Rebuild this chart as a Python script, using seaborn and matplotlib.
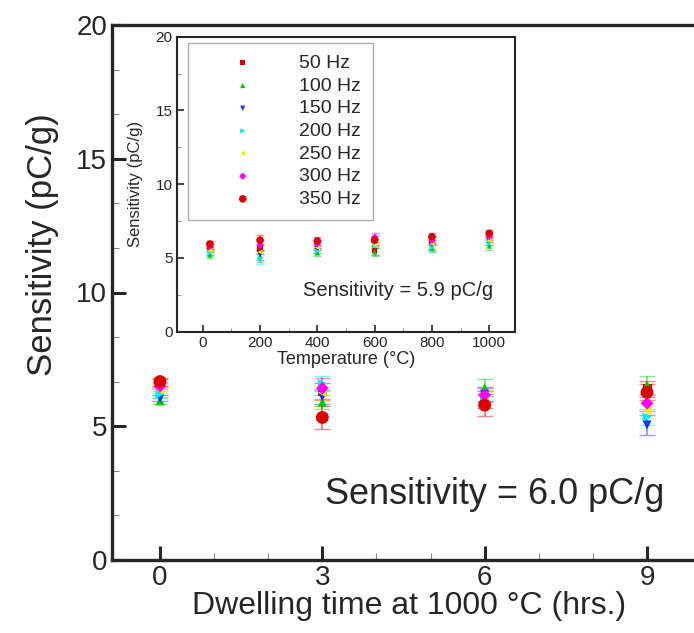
import numpy as np
import pandas as pd
import matplotlib
matplotlib.use("Agg")
import matplotlib.pyplot as plt
from matplotlib.ticker import MultipleLocator
import seaborn as sns

# ---- data ----
freqs = ["50 Hz", "100 Hz", "150 Hz", "200 Hz", "250 Hz", "300 Hz", "350 Hz"]
colors = ["#dd0000", "#00cc00", "#1030ff", "#00f0f0", "#f0f000", "#ff00ff", "#dd0000"]
markers = ["s", "^", "v", ">", "<", "D", "o"]

# main plot: dwelling time at 1000 C
dwell_hrs = [0, 3, 6, 9]
main_sens = {
    "50 Hz":  [6.60, 6.30, 6.00, 6.40],
    "100 Hz": [5.95, 5.90, 6.45, 6.55],
    "150 Hz": [6.05, 6.10, 6.20, 5.05],
    "200 Hz": [6.20, 6.60, 6.05, 5.35],
    "250 Hz": [6.35, 6.25, 6.10, 5.60],
    "300 Hz": [6.50, 6.42, 6.17, 5.86],
    "350 Hz": [6.67, 5.33, 5.79, 6.27],
}
main_err = {
    "50 Hz":  [0.15, 0.30, 0.30, 0.30],
    "100 Hz": [0.12, 0.25, 0.32, 0.33],
    "150 Hz": [0.12, 0.25, 0.25, 0.38],
    "200 Hz": [0.12, 0.28, 0.25, 0.30],
    "250 Hz": [0.12, 0.25, 0.25, 0.30],
    "300 Hz": [0.12, 0.40, 0.25, 0.30],
    "350 Hz": [0.15, 0.42, 0.40, 0.30],
}

# inset: temperature
temps = [25, 200, 400, 600, 800, 1000]
inset_sens = {
    "50 Hz":  [5.70, 5.60, 5.80, 5.50, 6.15, 6.35],
    "100 Hz": [5.20, 5.10, 5.35, 5.40, 5.66, 5.80],
    "150 Hz": [5.40, 5.20, 5.55, 5.95, 5.80, 6.10],
    "200 Hz": [5.35, 4.95, 5.45, 5.80, 5.70, 6.05],
    "250 Hz": [5.50, 5.40, 5.70, 5.90, 5.95, 6.20],
    "300 Hz": [5.80, 5.87, 5.95, 6.40, 6.20, 6.45],
    "350 Hz": [5.94, 6.20, 6.14, 6.20, 6.43, 6.66],
}
inset_err = [0.2, 0.35, 0.25, 0.3, 0.25, 0.25]

# ---- long tables ----
main_df = pd.DataFrame([
    {"freq": f, "time": t, "sens": s, "err": e}
    for f in freqs for t, s, e in zip(dwell_hrs, main_sens[f], main_err[f])
])
inset_df = pd.DataFrame([
    {"freq": f, "temp": t, "sens": s, "err": e}
    for f in freqs for t, s, e in zip(temps, inset_sens[f], inset_err)
])

palette = dict(zip(freqs, colors))
marker_map = dict(zip(freqs, markers))

sns.set_style("ticks")
plt.rcParams["font.family"] = ["Liberation Sans", "DejaVu Sans"]
plt.rcParams["xtick.direction"] = "in"
plt.rcParams["ytick.direction"] = "in"

fig = plt.figure(figsize=(6.94, 6.33), dpi=100)

# ========== main axes ==========
ax = fig.add_axes([112 / 694, 73 / 633, 594 / 694, 535 / 633])
for f in freqs:
    d = main_df[main_df["freq"] == f]
    ax.errorbar(d["time"], d["sens"], yerr=d["err"], fmt="none",
                ecolor=palette[f], alpha=0.45, capsize=6, elinewidth=1.5, zorder=2)
for f in freqs:
    d = main_df[main_df["freq"] == f]
    sns.scatterplot(data=d, x="time", y="sens", color=palette[f], marker=marker_map[f],
                    s=85 if f == "350 Hz" else 42, edgecolor="none", ax=ax, zorder=3,
                    legend=False)

ax.set_xlim(-0.887, 10.09)
ax.set_ylim(0, 20)
ax.set_xticks(dwell_hrs)
ax.xaxis.set_minor_locator(MultipleLocator(1))
ax.yaxis.set_major_locator(MultipleLocator(5))
ax.yaxis.set_minor_locator(MultipleLocator(5 / 3))
ax.tick_params(axis="both", which="major", labelsize=20, length=10, width=2.2)
ax.tick_params(axis="both", which="minor", length=5, width=0.8, color="#888888")
for side in ["left", "bottom", "top"]:
    ax.spines[side].set_linewidth(2.4)
ax.spines["right"].set_visible(False)
ax.set_xlabel("Dwelling time at 1000 °C (hrs.)", fontsize=23, labelpad=0)
ax.set_ylabel("Sensitivity (pC/g)", fontsize=25)
ax.yaxis.set_label_coords(-0.09, 0.59)
ax.text(3.05, 2.43, "Sensitivity = 6.0 pC/g", fontsize=26, va="center", ha="left")

# ========== inset axes ==========
axi = fig.add_axes([176.7 / 694, 301.4 / 633, 338.3 / 694, 294.9 / 633])
for f in freqs:
    d = inset_df[inset_df["freq"] == f]
    axi.errorbar(d["temp"], d["sens"], yerr=d["err"], fmt="none",
                 ecolor=palette[f], alpha=0.45, capsize=3, elinewidth=1, zorder=2)
for f in freqs:
    d = inset_df[inset_df["freq"] == f]
    sns.scatterplot(data=d, x="temp", y="sens", color=palette[f], marker=marker_map[f],
                    s=30 if f == "350 Hz" else 14, edgecolor="none", ax=axi, zorder=3,
                    label=f)

axi.set_xlim(-91, 1090)
axi.set_ylim(0, 20)
axi.xaxis.set_major_locator(MultipleLocator(200))
axi.xaxis.set_minor_locator(MultipleLocator(100))
axi.yaxis.set_major_locator(MultipleLocator(5))
axi.yaxis.set_minor_locator(MultipleLocator(2.5))
axi.tick_params(axis="both", which="major", labelsize=11, length=5, width=1.2, pad=3)
axi.tick_params(axis="both", which="minor", length=3, width=0.6, color="#888888")
for side in axi.spines.values():
    side.set_linewidth(1.5)
axi.set_xlabel("Temperature (°C)", fontsize=13, labelpad=1)
axi.set_ylabel("Sensitivity (pC/g)", fontsize=12)
axi.yaxis.set_label_coords(-0.10, 0.5)
axi.text(351, 2.77, "Sensitivity = 5.9 pC/g", fontsize=14.5, va="center", ha="left")

handles, labels = axi.get_legend_handles_labels()
leg = axi.legend(handles, labels, loc="upper left", bbox_to_anchor=(0.0343, 0.9797),
                 fontsize=14, frameon=True, fancybox=False, edgecolor="#999999",
                 handletextpad=0.7, borderpad=0.6, labelspacing=0.26,
                 handlelength=4.4, borderaxespad=0)
leg.get_frame().set_linewidth(1.0)

fig.savefig("out.png", dpi=100)
